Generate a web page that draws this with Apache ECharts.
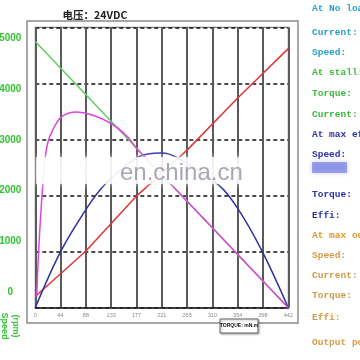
<!DOCTYPE html>
<html><head><meta charset="utf-8">
<script src="https://cdn.jsdelivr.net/npm/echarts@6/dist/echarts.min.js"></script>
<style>html,body{margin:0;padding:0;background:#fff}#c{width:360px;height:360px}</style>
</head><body><div id="c"></div>
<script>
// ---- data ----
const titleText = '电压：24VDC';
const xTickLabels = ['0','44','88','133','177','221','265','310','354','398','442'];
const speedTickLabels = [0, 1000, 2000, 3000, 4000, 5000];
// green: speed
const speedT = [0, 442];
const speedV = [4745, 0];
// red: current
const currentT = [0, 88.4, 176.8, 265.2, 353.6, 442];
const currentV = [200, 1010, 1990, 2810, 3740, 4620];
// magenta: efficiency
const effT = [2.4, 5, 10, 16, 22, 31, 45, 72, 98, 133, 162, 177, 221, 265.2, 353.6, 442];
const effV = [190, 850, 1740, 2550, 2950, 3180, 3400, 3490, 3440, 3280, 3040, 2840, 2370, 1900, 950, 0];
// blue: output power
const powerT = [0, 44.2, 88.4, 120, 180, 221, 247, 321, 353.6, 396.6, 442];
const powerV = [0, 1000, 1750, 2180, 2690, 2760, 2680, 2180, 1770, 1000, 0];
// right panel
const panelLines = [
  ['At No load:', '#2a9fc4', 9], ['Current:', '#2a9fc4', 33], ['Speed:', '#2a9fc4', 53],
  ['At stall:', '#3cb83c', 73], ['Torque:', '#3cb83c', 94], ['Current:', '#3cb83c', 115],
  ['At max eff:', '#2a32a8', 135], ['Speed:', '#2a32a8', 155], ['Torque:', '#2a32a8', 195], ['Effi:', '#2a32a8', 216],
  ['At max output:', '#e0962c', 236], ['Speed:', '#d39a48', 256], ['Current:', '#d39a48', 276],
  ['Torque:', '#d39a48', 296], ['Effi:', '#d39a48', 318], ['Output power:', '#d39a48', 343]
];

const pairs = (t, v) => t.map((x, i) => [x, v[i]]);

const chart = echarts.init(document.getElementById('c'), null, {renderer: 'canvas'});
const gfx = [
  {type:'rect', shape:{x:27, y:21, width:271, height:302}, style:{fill:'none', stroke:'#8c8c8c', lineWidth:1.5}},
  {type:'text', x:95, y:15, style:{text:titleText, fill:'#222', font:'bold 10.5px "Noto Sans CJK SC", sans-serif', textAlign:'center', textVerticalAlign:'middle'}},
  {type:'text', x:4, y:326, rotation:-Math.PI/2, style:{text:'Speed', fill:'#33c433', font:'bold 9px "Liberation Sans", sans-serif', textAlign:'center', textVerticalAlign:'middle'}},
  {type:'text', x:15, y:326, rotation:-Math.PI/2, style:{text:'(rpm)', fill:'#33c433', font:'bold 9px "Liberation Sans", sans-serif', textAlign:'center', textVerticalAlign:'middle'}},
  {type:'rect', shape:{x:220, y:319, width:38, height:14}, style:{fill:'#fff', stroke:'#666', lineWidth:1, shadowBlur:2, shadowColor:'rgba(0,0,0,0.3)', shadowOffsetX:1, shadowOffsetY:1}},
  {type:'text', x:239, y:326, style:{text:'TORQUE: mN.m', fill:'#111', font:'bold 5px "Liberation Sans", sans-serif', textAlign:'center', textVerticalAlign:'middle'}},
  {type:'rect', z:100, shape:{x:36, y:157, width:210, height:27}, style:{fill:'rgba(255,255,255,0.75)', shadowBlur:6, shadowColor:'rgba(255,255,255,0.9)'}},
  {type:'text', z:101, x:120, y:173, style:{text:'en.china.cn', fill:'rgba(110,110,130,0.6)', font:'24px "Liberation Sans", sans-serif', textAlign:'left', textVerticalAlign:'middle'}},
  {type:'rect', z:101, shape:{x:312, y:162, width:35, height:11}, style:{fill:'rgba(80,90,220,0.5)', shadowBlur:5, shadowColor:'rgba(80,90,220,0.6)'}}
];
panelLines.forEach(([t, c, y]) => gfx.push({type:'text', x:312, y:y, style:{text:t, fill:c, font:'bold 9.5px "Liberation Mono", monospace', textAlign:'left', textVerticalAlign:'middle'}}));

chart.setOption({
  animation: false,
  backgroundColor: '#fff',
  grid: {left:35.3, right:71.7, top:27.3, bottom:52.3, containLabel:false, outerBoundsMode:'none', show:true, borderColor:'#666', borderWidth:1, backgroundColor:'#fff'},
  xAxis: {
    type:'value', min:0, max:442, interval:44.2,
    axisLine:{show:true, onZero:false, lineStyle:{color:'#222', width:1.5}},
    axisTick:{show:false},
    axisLabel:{color:'#888', fontSize:5.5, margin:5, formatter:(v)=>xTickLabels[Math.round(v/44.2)] || ''},
    splitLine:{show:true, lineStyle:{color:'#5a5a5a', width:2}}
  },
  yAxis: [
    {type:'value', min:-310, max:5220, position:'left',
     axisLine:{show:false}, axisTick:{show:false}, splitLine:{show:false},
     axisLabel:{customValues:speedTickLabels, formatter:(v)=>String(v), color:'#33c433', fontWeight:'bold', fontSize:10, margin:25, align:'center', fontFamily:'Liberation Sans'}},
    {type:'value', min:0, max:5000, interval:1000, position:'left',
     axisLine:{show:false}, axisTick:{show:false}, axisLabel:{show:false},
     splitLine:{show:true, lineStyle:{color:'#111', type:[4,3], width:1.5}}}
  ],
  series: [
    {type:'line', yAxisIndex:1, data:pairs(speedT, speedV), showSymbol:false, lineStyle:{color:'#5ccf5c', width:1.5}, z:3},
    {type:'line', yAxisIndex:1, data:pairs(currentT, currentV), showSymbol:false, lineStyle:{color:'#e03434', width:1.5}, z:3},
    {type:'line', yAxisIndex:1, data:pairs(powerT, powerV), showSymbol:false, smooth:0.35, lineStyle:{color:'#2d30a0', width:1.5}, z:3},
    {type:'line', yAxisIndex:1, data:pairs(effT, effV), showSymbol:false, smooth:0.3, lineStyle:{color:'#e044e0', width:1.5}, z:4}
  ],
  graphic: gfx
});
</script>
</body></html>
